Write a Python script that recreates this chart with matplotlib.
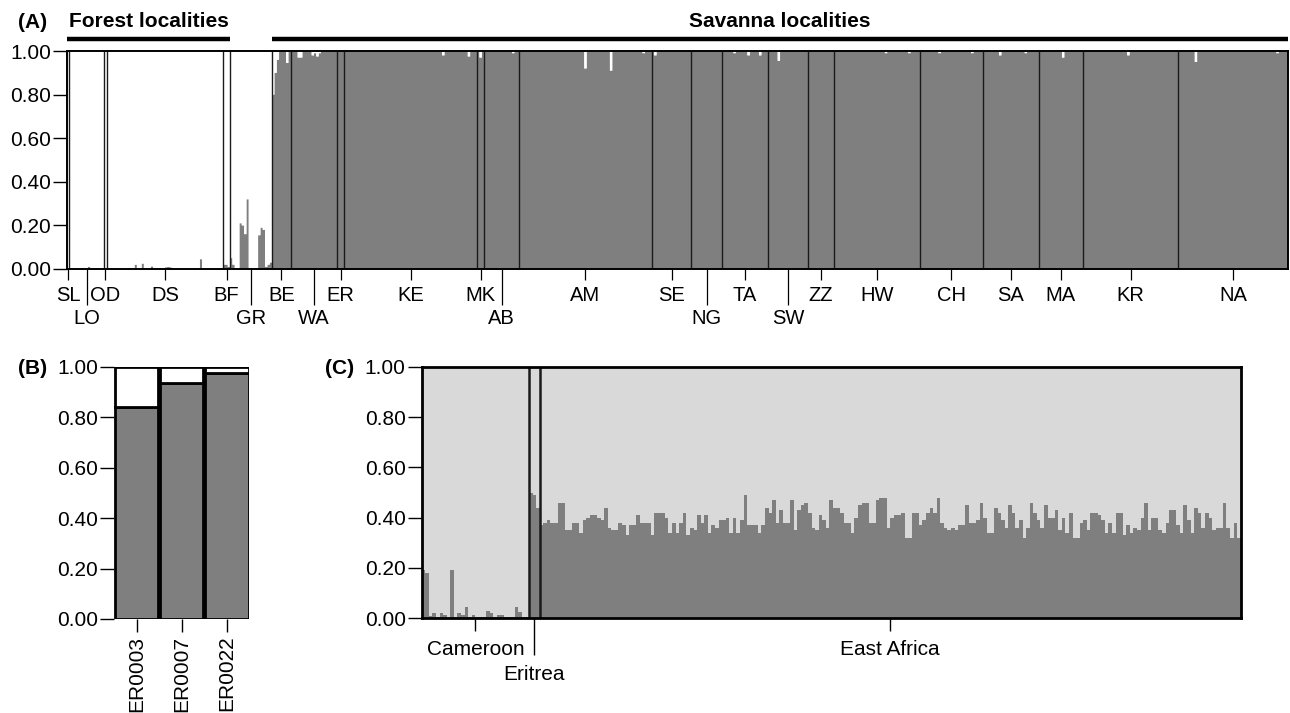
import numpy as np
import matplotlib
matplotlib.use('Agg')
import matplotlib.pyplot as plt
from matplotlib.ticker import FormatStrFormatter

plt.rcParams['font.family'] = ['Liberation Sans', 'DejaVu Sans']
plt.rcParams['font.size'] = 15

DARK = '#7f7f7f'
LIGHT = '#d9d9d9'

# ---- (A) all localities, K=2 ----
pops_A = ['SL', 'LO', 'OD', 'DS', 'BF', 'GR', 'BE', 'WA', 'ER', 'KE', 'MK', 'AB',
          'AM', 'SE', 'NG', 'TA', 'SW', 'ZZ', 'HW', 'CH', 'SA', 'MA', 'KR', 'NA']
sizes_A = [1, 15, 1, 50, 3, 18, 8, 20, 3, 57, 3, 15,
           57, 17, 13, 20, 17, 11, 37, 27, 24, 19, 41, 47]
forest_A = ['SL', 'LO', 'OD', 'DS', 'BF', 'GR']
forest_bar = ['SL', 'LO', 'OD', 'DS', 'BF']
second_row_A = ['LO', 'GR', 'WA', 'AB', 'NG', 'SW']

# individuals that are not fully assigned (population, index in population, q)
admixed_A = [
    ('LO', 8, 0.01),
    ('DS', 12, 0.02), ('DS', 15, 0.025), ('DS', 19, 0.012), ('DS', 25, 0.008),
    ('DS', 26, 0.01), ('DS', 27, 0.008), ('DS', 40, 0.045),
    ('BF', 0, 0.02), ('BF', 1, 0.02), ('BF', 2, 0.01),
    ('GR', 0, 0.05), ('GR', 1, 0.02), ('GR', 4, 0.21), ('GR', 5, 0.20),
    ('GR', 6, 0.16), ('GR', 7, 0.32), ('GR', 12, 0.155), ('GR', 13, 0.19),
    ('GR', 14, 0.18), ('GR', 15, 0.01), ('GR', 16, 0.02), ('GR', 17, 0.03),
    ('BE', 0, 0.80), ('BE', 1, 0.90), ('BE', 2, 0.96), ('BE', 6, 0.945),
    ('WA', 3, 0.97), ('WA', 4, 0.97), ('WA', 9, 0.98), ('WA', 10, 0.99),
    ('WA', 11, 0.975), ('WA', 12, 0.99),
    ('KE', 42, 0.98), ('KE', 53, 0.975),
    ('MK', 1, 0.97), ('AB', 12, 0.99),
    ('AM', 28, 0.92), ('AM', 39, 0.91), ('AM', 53, 0.99),
    ('SE', 1, 0.98), ('TA', 5, 0.99), ('TA', 11, 0.98), ('TA', 16, 0.98),
    ('SW', 4, 0.955), ('HW', 22, 0.99), ('HW', 32, 0.99),
    ('CH', 8, 0.99), ('CH', 22, 0.99), ('SA', 7, 0.98), ('SA', 18, 0.99),
    ('MA', 10, 0.97), ('KR', 19, 0.98), ('NA', 7, 0.95), ('NA', 42, 0.99),
]

# ---- (B) Eritrean individuals ----
er_ids = ['ER0003', 'ER0007', 'ER0022']
er_q = [0.84, 0.935, 0.975]

# ---- (C) Cameroon / Eritrea / East Africa ----
regions_C = ['Cameroon', 'Eritrea', 'East Africa']
cameroon_q = [0.19, 0.18, 0.01, 0.02, 0.005, 0.02, 0.015, 0.0, 0.19, 0.005,
              0.02, 0.015, 0.045, 0.005, 0.015, 0.005, 0.005, 0.005, 0.03, 0.02,
              0.005, 0.015, 0.015, 0.005, 0.005, 0.005, 0.045, 0.025, 0.005, 0.005]
eritrea_q = [0.50, 0.49, 0.44]
eastafrica_q = [
    0.37, 0.38, 0.39, 0.38, 0.38, 0.46, 0.46, 0.35, 0.35, 0.38, 0.38, 0.34, 0.39,
    0.40, 0.41, 0.41, 0.40, 0.39, 0.44, 0.36, 0.35, 0.35, 0.38, 0.37, 0.33,
    0.37, 0.37, 0.41, 0.38, 0.38, 0.38, 0.33, 0.42, 0.42, 0.42, 0.40, 0.34, 0.38,
    0.34, 0.38, 0.42, 0.33, 0.36, 0.35, 0.41, 0.38, 0.41, 0.34, 0.37, 0.36, 0.39,
    0.39, 0.40, 0.34, 0.40, 0.34, 0.39, 0.49, 0.37, 0.37, 0.37, 0.34, 0.37, 0.44,
    0.42, 0.47, 0.38, 0.43, 0.38, 0.38, 0.47, 0.35, 0.43, 0.45, 0.46, 0.42, 0.36,
    0.35, 0.41, 0.39, 0.36,
    0.47, 0.44, 0.44, 0.42, 0.38, 0.38, 0.34, 0.40, 0.45, 0.46, 0.46, 0.38, 0.38,
    0.47, 0.48, 0.48, 0.36, 0.40, 0.41, 0.41, 0.42, 0.32, 0.32, 0.42, 0.42, 0.37,
    0.39, 0.42, 0.44, 0.42, 0.48, 0.38, 0.36, 0.35, 0.36, 0.35, 0.37, 0.37, 0.45,
    0.38, 0.38, 0.39, 0.46, 0.40, 0.34, 0.34, 0.44, 0.42, 0.39, 0.36, 0.45, 0.42,
    0.36, 0.39, 0.32, 0.36,
    0.46, 0.42, 0.39, 0.36, 0.45, 0.40, 0.40, 0.43, 0.35, 0.40, 0.34, 0.42, 0.32,
    0.32, 0.38, 0.39, 0.35, 0.42, 0.42, 0.41, 0.39, 0.34, 0.38, 0.34, 0.42, 0.42,
    0.33, 0.37, 0.34, 0.36, 0.35, 0.40, 0.46, 0.35, 0.40, 0.40, 0.35, 0.34, 0.38,
    0.43, 0.43, 0.37, 0.34, 0.45, 0.39, 0.34, 0.44, 0.42, 0.36, 0.42, 0.40, 0.35,
    0.36, 0.36, 0.46, 0.36, 0.32, 0.38, 0.32,
]

yticks = [0.0, 0.2, 0.4, 0.6, 0.8, 1.0]

W, H = 1290, 713
fig = plt.figure(figsize=(W / 100, H / 100), dpi=100)


def box(l, t, r, b):
    return [l / W, 1 - b / H, (r - l) / W, (b - t) / H]


def style_y(ax):
    ax.set_ylim(0, 1)
    ax.set_yticks(yticks)
    ax.yaxis.set_major_formatter(FormatStrFormatter('%.2f'))
    ax.tick_params(axis='y', length=10, width=1, pad=1.5, labelsize=15)


# ================= (A) =================
axA = fig.add_axes(box(67, 51, 1288, 269))
edges_A = np.concatenate([[0], np.cumsum(sizes_A)])
start_A = dict(zip(pops_A, edges_A[:-1]))
q_A = np.concatenate([np.full(n, 0.0 if p in forest_A else 1.0)
                      for p, n in zip(pops_A, sizes_A)])
for p, i, v in admixed_A:
    q_A[start_A[p] + i] = v
N_A = len(q_A)
xe = np.arange(N_A + 1)
axA.stairs(q_A, xe, baseline=0, fill=True, color=DARK, lw=0)
axA.stairs(np.ones(N_A), xe, baseline=q_A, fill=True, color='white', lw=0)
for e in edges_A[1:-1]:
    axA.axvline(e, color='#1a1a1a', lw=1.0)
axA.set_xlim(0, N_A)
style_y(axA)
for s in axA.spines.values():
    s.set_linewidth(1.4)

centers_A = edges_A[:-1] + np.array(sizes_A) / 2
row1 = [(c, p) for c, p in zip(centers_A, pops_A) if p not in second_row_A]
row2 = [(c, p) for c, p in zip(centers_A, pops_A) if p in second_row_A]
axA.set_xticks([c for c, _ in row1], [p for _, p in row1])
axA.set_xticks([c for c, _ in row2], [p for _, p in row2], minor=True)
axA.tick_params(axis='x', which='major', length=8, width=0.9, pad=4, labelsize=14.5)
axA.tick_params(axis='x', which='minor', length=26, width=0.9, pad=3, labelsize=14.5)

# locality bars and titles
tr = axA.get_xaxis_transform()
f_end = start_A[forest_bar[-1]] + sizes_A[pops_A.index(forest_bar[-1])]
s_start = start_A['BE']
axA.plot([0, f_end], [1.054, 1.054], transform=tr, color='black', lw=3.2,
         clip_on=False, solid_capstyle='butt')
axA.plot([s_start, N_A], [1.054, 1.054], transform=tr, color='black', lw=3.2,
         clip_on=False, solid_capstyle='butt')
axA.text(f_end / 2, 1.109, 'Forest localities', transform=tr, ha='center',
         va='baseline', fontweight='bold', fontsize=15)
axA.text((s_start + N_A) / 2, 1.109, 'Savanna localities', transform=tr,
         ha='center', va='baseline', fontweight='bold', fontsize=15)
fig.text(18 / W, 1 - 27.5 / H, '(A)', ha='left', va='baseline',
         fontweight='bold', fontsize=15)

# ================= (B) =================
axB = fig.add_axes(box(114, 366.7, 249.3, 619))
xb = np.arange(len(er_ids))
qb = np.array(er_q)
axB.bar(xb, qb, width=0.965, color=DARK, edgecolor='black', lw=2)
axB.bar(xb, 1 - qb, bottom=qb, width=0.965, color='white', edgecolor='black', lw=2)
axB.set_xlim(-0.5, len(er_ids) - 0.5)
style_y(axB)
for s in axB.spines.values():
    s.set_visible(False)
axB.set_xticks(xb, er_ids, rotation=90)
axB.tick_params(axis='x', length=9.5, width=1, pad=2.5, labelsize=15)
fig.text(18 / W, 1 - 374 / H, '(B)', ha='left', va='baseline',
         fontweight='bold', fontsize=15)

# ================= (C) =================
axC = fig.add_axes(box(421.7, 366.7, 1240.7, 618.3))
groups_C = [cameroon_q, eritrea_q, eastafrica_q]
q_C = np.concatenate(groups_C)
N_C = len(q_C)
xc = np.arange(N_C + 1)
axC.stairs(q_C, xc, baseline=0, fill=True, color=DARK, lw=0)
axC.stairs(np.ones(N_C), xc, baseline=q_C, fill=True, color=LIGHT, lw=0)
edges_C = np.cumsum([len(g) for g in groups_C])
for e in edges_C[:-1]:
    axC.axvline(e, color='#1a1a1a', lw=1.8)
axC.set_xlim(0, N_C)
style_y(axC)
for s in axC.spines.values():
    s.set_linewidth(2)
centers_C = np.concatenate([[0], edges_C[:-1]]) + np.array([len(g) for g in groups_C]) / 2
axC.set_xticks([centers_C[0], centers_C[2]], [regions_C[0], regions_C[2]])
axC.set_xticks([centers_C[1]], [regions_C[1]], minor=True)
axC.tick_params(axis='x', which='major', length=9.5, width=1, pad=6, labelsize=15)
axC.tick_params(axis='x', which='minor', length=26.5, width=1, pad=7, labelsize=15)
fig.text(325 / W, 1 - 374 / H, '(C)', ha='left', va='baseline',
         fontweight='bold', fontsize=15)

fig.savefig('out.png', dpi=100, facecolor='white')
